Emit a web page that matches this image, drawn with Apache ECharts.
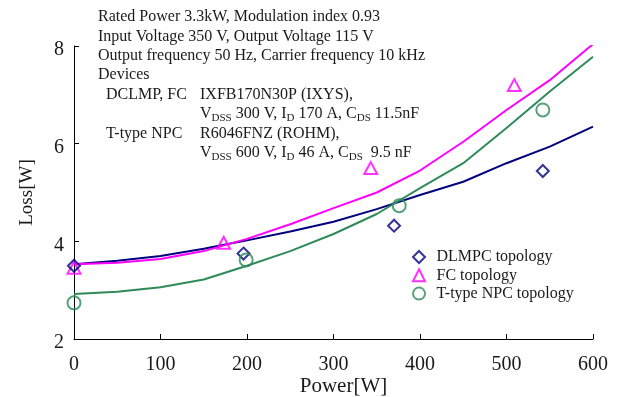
<!DOCTYPE html>
<html>
<head>
<meta charset="utf-8">
<script src="https://cdn.jsdelivr.net/npm/echarts@6/dist/echarts.min.js"></script>
<style>html,body{margin:0;padding:0;background:#fff;}#c{width:624px;height:397px;}</style>
</head>
<body>
<div id="c"></div>
<script>
// ---- data ----
const powerGrid = [0, 50, 100, 150, 200, 250, 300, 350, 400, 450, 500, 550, 600];
const dclmpLine = [3.53, 3.6, 3.7, 3.85, 4.02, 4.2, 4.4, 4.66, 4.95, 5.22, 5.6, 5.94, 6.35];
const fcLine    = [3.53, 3.56, 3.64, 3.8, 4.05, 4.35, 4.68, 5.0, 5.45, 6.04, 6.69, 7.3, 8.04];
const ttLine    = [2.92, 2.97, 3.06, 3.22, 3.5, 3.8, 4.15, 4.56, 5.09, 5.6, 6.32, 7.07, 7.78];

const dlmpcX = [0, 196, 370, 542];
const dlmpcY = [3.5, 3.75, 4.32, 5.44];
const fcX = [0, 173, 343, 509];
const fcY = [3.46, 3.97, 5.5, 7.2];
const ttX = [0, 199, 376, 542];
const ttY = [2.74, 3.62, 4.73, 6.69];

const seriesNames = ['DLMPC topology', 'FC topology', 'T-type NPC topology'];
const xTicks = { min: 0, max: 600, interval: 100 };
const yTicks = { min: 2, max: 8, interval: 2 };

const noteLines = [
  'Rated Power 3.3kW, Modulation index 0.93',
  'Input Voltage 350 V, Output Voltage 115 V',
  'Output frequency 50 Hz, Carrier frequency 10 kHz',
  'Devices'
];

// ---- build ----
const zip = (xs, ys) => xs.map((x, i) => [x, ys[i]]);
const FONT = "'Liberation Serif', 'Times New Roman', serif";
const NAVY = '#000080', MAG = '#ff00ff', GREEN = '#2e8b57';

const chart = echarts.init(document.getElementById('c'));
const rich = {
  n: { fontSize: 16, fontFamily: FONT, color: '#1a1a1a', lineHeight: 20 },
  s: { fontSize: 11, fontFamily: FONT, color: '#1a1a1a', lineHeight: 12, verticalAlign: 'bottom' }
};
function txt(x, y, content) {
  return { type: 'text', left: x, top: y, z: 100,
    style: { text: content, rich: rich, font: '16px ' + FONT, fill: '#1a1a1a' } };
}
const graphics = [];
const LH = 19.4, T0 = 9;
noteLines.forEach((t, i) => graphics.push(txt(98, T0 + i * LH, '{n|' + t + '}')));
graphics.push(txt(106, T0 + 4 * LH, '{n|DCLMP, FC}'));
graphics.push(txt(200, T0 + 4 * LH, '{n|IXFB170N30P (IXYS),}'));
graphics.push(txt(200, T0 + 5 * LH, '{n|V}{s|DSS}{n| 300 V, I}{s|D}{n| 170 A, C}{s|DS}{n| 11.5nF}'));
graphics.push(txt(106, T0 + 6 * LH, '{n|T-type NPC}'));
graphics.push(txt(200, T0 + 6 * LH, '{n|R6046FNZ (ROHM),}'));
graphics.push(txt(200, T0 + 7 * LH, '{n|V}{s|DSS}{n| 600 V, I}{s|D}{n| 46 A, C}{s|DS}{n|  9.5 nF}'));

const lineBase = (name, data, color) => ({
  name: name, type: 'line', data: data, showSymbol: false, symbol: 'none',
  lineStyle: { color: color, width: 2 }, itemStyle: { color: color }, z: 2, silent: true
});
const scat = (name, data, symbol, size, color, z) => ({
  name: name, type: 'scatter', data: data, symbol: symbol, symbolSize: size, clip: false, z: z,
  itemStyle: { color: 'rgba(255,255,255,0)', borderColor: color, borderWidth: 2 }
});

chart.setOption({
  animation: false,
  backgroundColor: '#fff',
  textStyle: { fontFamily: FONT },
  grid: { left: 74, right: 31, top: 46, bottom: 58, containLabel: false, outerBoundsMode: 'none' },
  graphic: graphics,
  legend: {
    data: seriesNames, orient: 'vertical', left: 412, top: 249, padding: 0,
    itemWidth: 12, itemHeight: 12, itemGap: 2.3,
    textStyle: { fontFamily: FONT, fontSize: 16, color: '#1a1a1a', padding: [0, 0, 0, 6.5] },
    selectedMode: false
  },
  xAxis: {
    type: 'value', min: xTicks.min, max: xTicks.max, interval: xTicks.interval,
    name: 'Power[W]', nameLocation: 'middle', nameGap: 37, nameMoveOverlap: false,
    nameTextStyle: { fontFamily: FONT, fontSize: 21, color: '#1a1a1a', padding: [0, 0, 0, 20] },
    axisLine: { lineStyle: { color: '#000', width: 1 } },
    axisTick: { inside: true, length: 5, lineStyle: { color: '#000' } },
    axisLabel: { fontFamily: FONT, fontSize: 20, color: '#1a1a1a', margin: 16 },
    splitLine: { show: false }
  },
  yAxis: {
    type: 'value', min: yTicks.min, max: yTicks.max, interval: yTicks.interval,
    name: 'Loss[W]', nameLocation: 'middle', nameGap: 37, nameMoveOverlap: false,
    nameTextStyle: { fontFamily: FONT, fontSize: 19, color: '#1a1a1a' },
    axisLine: { show: true, lineStyle: { color: '#000', width: 1 } },
    axisTick: { show: true, inside: true, length: 5, lineStyle: { color: '#000' } },
    axisLabel: { fontFamily: FONT, fontSize: 20, color: '#1a1a1a', margin: 10, verticalAlign: 'top', lineHeight: 8 },
    splitLine: { show: false }
  },
  series: [
    lineBase('dl', zip(powerGrid, dclmpLine), NAVY),
    lineBase('fc', zip(powerGrid, fcLine), MAG),
    lineBase('tt', zip(powerGrid, ttLine), GREEN),
    scat(seriesNames[1], zip(fcX, fcY), 'triangle', [13, 12], MAG, 5),
    scat(seriesNames[0], zip(dlmpcX, dlmpcY), 'diamond', 12, NAVY, 6),
    scat(seriesNames[2], zip(ttX, ttY), 'circle', 13, GREEN, 7)
  ]
});
</script>
</body>
</html>
